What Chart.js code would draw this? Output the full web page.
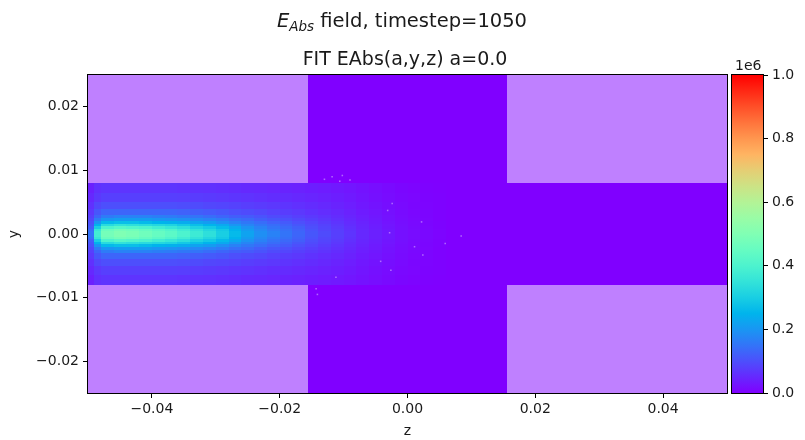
<!DOCTYPE html>
<html>
<head>
<meta charset="utf-8">
<script src="https://cdn.jsdelivr.net/npm/chart.js@4/dist/chart.umd.min.js"></script>
<style>
  body { margin: 0; background: #fff; }
  #wrap { position: relative; width: 805px; height: 440px; }
  #main { position: absolute; left: 0; top: 0; }
  #cbar { position: absolute; left: 727px; top: 0; }
</style>
</head>
<body>
<div id="wrap">
  <canvas id="main" width="805" height="440"></canvas>
  <canvas id="cbar" width="78" height="440"></canvas>
</div>
<script>
// --- axes ---
const zRange = [-0.05, 0.05];
const yRange = [-0.025, 0.025];
const zTicks = [-0.04, -0.02, 0, 0.02, 0.04];
const zTickLabels = ['\u22120.04', '\u22120.02', '0.00', '0.02', '0.04'];
const yTicks = [-0.02, -0.01, 0, 0.01, 0.02];
const yTickLabels = ['\u22120.02', '\u22120.01', '0.00', '0.01', '0.02'];
const cbTicks = [0, 0.2, 0.4, 0.6, 0.8, 1.0];
const cbTickLabels = ['0.0', '0.2', '0.4', '0.6', '0.8', '1.0'];

// --- geometry (metres): beam pipe half height, cavity half length ---
const pipeHalfHeight = 0.008;
const cavityHalfLength = 0.0155;

// --- field |E| in units of 1e6, cells on zEdges x yEdges (upper half, mirrored in y) ---
const zEdges = [-0.05, -0.049, -0.048, -0.046, -0.044, -0.042, -0.040, -0.038, -0.036, -0.034, -0.032,
  -0.030, -0.028, -0.026, -0.024, -0.022, -0.020, -0.018, -0.016, -0.014, -0.012, -0.010, -0.008,
  -0.006, -0.004, -0.002, 0.000, 0.002, 0.004, 0.006, 0.05];
const yEdges = [0, 0.0004, 0.0008, 0.0012, 0.0016, 0.002, 0.0025, 0.003, 0.004, 0.005, 0.0065, 0.008];
const fieldRows = [
  [0.15, 0.38, 0.48, 0.50, 0.49, 0.47, 0.45, 0.43, 0.40, 0.37, 0.34, 0.30, 0.26, 0.22, 0.19, 0.17, 0.15, 0.13, 0.11, 0.095, 0.08, 0.065, 0.05, 0.04, 0.03, 0.02, 0.015, 0.01, 0.005, 0],
  [0.14, 0.36, 0.46, 0.48, 0.47, 0.45, 0.43, 0.41, 0.38, 0.35, 0.32, 0.29, 0.25, 0.21, 0.18, 0.16, 0.145, 0.125, 0.105, 0.09, 0.078, 0.063, 0.05, 0.04, 0.03, 0.02, 0.015, 0.01, 0.005, 0],
  [0.12, 0.30, 0.40, 0.42, 0.41, 0.40, 0.38, 0.36, 0.34, 0.31, 0.29, 0.26, 0.23, 0.195, 0.17, 0.15, 0.135, 0.12, 0.10, 0.087, 0.074, 0.06, 0.048, 0.038, 0.028, 0.02, 0.014, 0.009, 0.004, 0],
  [0.11, 0.25, 0.33, 0.35, 0.34, 0.33, 0.32, 0.31, 0.29, 0.27, 0.25, 0.23, 0.20, 0.175, 0.155, 0.14, 0.125, 0.11, 0.095, 0.083, 0.07, 0.057, 0.046, 0.036, 0.027, 0.019, 0.013, 0.008, 0.004, 0],
  [0.10, 0.20, 0.26, 0.27, 0.27, 0.26, 0.25, 0.245, 0.235, 0.22, 0.21, 0.19, 0.17, 0.155, 0.14, 0.125, 0.115, 0.10, 0.088, 0.077, 0.066, 0.054, 0.044, 0.034, 0.025, 0.018, 0.012, 0.008, 0.004, 0],
  [0.09, 0.16, 0.20, 0.21, 0.21, 0.21, 0.20, 0.195, 0.19, 0.18, 0.17, 0.16, 0.145, 0.135, 0.12, 0.11, 0.10, 0.09, 0.08, 0.07, 0.06, 0.05, 0.04, 0.032, 0.023, 0.016, 0.011, 0.007, 0.003, 0],
  [0.08, 0.13, 0.16, 0.17, 0.17, 0.17, 0.165, 0.16, 0.155, 0.15, 0.14, 0.13, 0.12, 0.115, 0.105, 0.095, 0.088, 0.08, 0.072, 0.064, 0.055, 0.046, 0.037, 0.03, 0.022, 0.015, 0.01, 0.006, 0.003, 0],
  [0.07, 0.11, 0.13, 0.13, 0.13, 0.13, 0.13, 0.13, 0.125, 0.12, 0.115, 0.11, 0.10, 0.095, 0.09, 0.082, 0.076, 0.07, 0.063, 0.056, 0.05, 0.042, 0.034, 0.027, 0.02, 0.014, 0.009, 0.006, 0.003, 0],
  [0.06, 0.09, 0.10, 0.10, 0.10, 0.10, 0.10, 0.10, 0.098, 0.095, 0.09, 0.087, 0.083, 0.078, 0.074, 0.07, 0.065, 0.06, 0.055, 0.05, 0.044, 0.037, 0.03, 0.024, 0.018, 0.012, 0.008, 0.005, 0.002, 0],
  [0.05, 0.07, 0.08, 0.08, 0.08, 0.08, 0.08, 0.08, 0.078, 0.076, 0.073, 0.07, 0.067, 0.064, 0.06, 0.057, 0.054, 0.05, 0.046, 0.042, 0.038, 0.032, 0.026, 0.02, 0.015, 0.01, 0.007, 0.004, 0.002, 0],
  [0.04, 0.06, 0.065, 0.065, 0.065, 0.065, 0.065, 0.065, 0.063, 0.062, 0.06, 0.058, 0.055, 0.052, 0.05, 0.047, 0.044, 0.041, 0.038, 0.035, 0.031, 0.027, 0.022, 0.017, 0.012, 0.008, 0.005, 0.003, 0.001, 0],
];

// stray numerical specks in the cavity (z, y)
const speckZ = [-0.0130, -0.0118, -0.0102, -0.0106, -0.0090, -0.0024, -0.0031, 0.0022, -0.0028,
  0.0084, 0.0059, 0.0011, 0.0024, -0.0042, -0.0026, -0.0112, -0.0143, -0.0141];
const speckY = [0.0086, 0.0090, 0.0092, 0.0083, 0.0085, 0.0048, 0.0037, 0.0019, 0.0002,
  -0.0003, -0.0015, -0.0020, -0.0033, -0.0043, -0.0057, -0.0068, -0.0086, -0.0095];

const FONT = "'DejaVu Sans', sans-serif";
const TXT = '#1a1a1a';
const MASK = 'rgb(191,128,255)';

// matplotlib 'rainbow'
function rainbow(v) {
  v = Math.min(1, Math.max(0, v));
  const r = Math.min(1, Math.abs(2 * v - 0.5));
  const g = Math.sin(Math.PI * v);
  const b = Math.cos(Math.PI * v / 2);
  return `rgb(${Math.round(r * 255)},${Math.round(g * 255)},${Math.round(b * 255)})`;
}

const heatmap = {
  id: 'heatmap',
  beforeDatasetsDraw(chart) {
    const { ctx, chartArea: a, scales: { x, y } } = chart;
    ctx.save();
    ctx.beginPath(); ctx.rect(a.left, a.top, a.width, a.height); ctx.clip();
    const cell = (z0, z1, y0, y1, color) => {
      const px0 = Math.round(x.getPixelForValue(z0)), px1 = Math.round(x.getPixelForValue(z1));
      const py0 = Math.round(y.getPixelForValue(y1)), py1 = Math.round(y.getPixelForValue(y0));
      ctx.fillStyle = color;
      ctx.fillRect(px0, py0, px1 - px0, py1 - py0);
    };
    cell(zRange[0], zRange[1], yRange[0], yRange[1], rainbow(0));
    // metal walls outside the cavity
    cell(zRange[0], -cavityHalfLength, pipeHalfHeight, yRange[1], MASK);
    cell(cavityHalfLength, zRange[1], pipeHalfHeight, yRange[1], MASK);
    cell(zRange[0], -cavityHalfLength, yRange[0], -pipeHalfHeight, MASK);
    cell(cavityHalfLength, zRange[1], yRange[0], -pipeHalfHeight, MASK);
    fieldRows.forEach((row, r) => row.forEach((v, c) => {
      if (!v) return;
      const col = rainbow(v);
      cell(zEdges[c], zEdges[c + 1], yEdges[r], yEdges[r + 1], col);
      cell(zEdges[c], zEdges[c + 1], -yEdges[r + 1], -yEdges[r], col);
    }));
    ctx.restore();
  },
  afterDraw(chart) {
    const { ctx, chartArea: a } = chart;
    ctx.save();
    ctx.strokeStyle = '#000'; ctx.lineWidth = 1;
    ctx.strokeRect(Math.round(a.left) - 0.5, Math.round(a.top) - 0.5, Math.round(a.width) + 1, Math.round(a.height) + 1);
    // axes title
    ctx.fillStyle = TXT;
    ctx.textAlign = 'center'; ctx.textBaseline = 'alphabetic';
    ctx.font = `19px ${FONT}`;
    ctx.fillText('FIT EAbs(a,y,z) a=0.0', 405, 64.5);
    // figure suptitle: E_Abs field, timestep=1050
    const big = `19.5px ${FONT}`, bigI = `italic 19.5px ${FONT}`, subI = `italic 13.5px ${FONT}`;
    const parts = [[bigI, 'E', 0], [subI, 'Abs', 3.5], [big, ' field, timestep=1050', 0]];
    let w = 0;
    parts.forEach(p => { ctx.font = p[0]; p.push(ctx.measureText(p[1]).width); w += p[3]; });
    let cx = 402 - w / 2;
    ctx.textAlign = 'left';
    parts.forEach(p => { ctx.font = p[0]; ctx.fillText(p[1], cx, 27 + p[2]); cx += p[3]; });
    ctx.restore();
  }
};

const tickFont = { family: FONT, size: 14 };

new Chart(document.getElementById('main'), {
  type: 'scatter',
  data: {
    datasets: [{
      data: speckZ.map((z, i) => ({ x: z, y: speckY[i] })),
      pointStyle: 'rect', pointRadius: 1.1, borderWidth: 0,
      backgroundColor: 'rgba(185,120,255,0.85)'
    }]
  },
  options: {
    responsive: false, animation: false, events: [],
    layout: { padding: { top: 75, right: 78, left: 0, bottom: 0 } },
    plugins: { legend: { display: false }, tooltip: { enabled: false } },
    scales: {
      x: {
        type: 'linear', min: zRange[0], max: zRange[1],
        afterBuildTicks: s => { s.ticks = zTicks.map(v => ({ value: v })); },
        afterFit: s => { s.height = 47; },
        ticks: { callback: (v, i) => zTickLabels[i], color: TXT, font: tickFont, padding: 3, maxRotation: 0 },
        grid: { drawOnChartArea: false, color: '#000', tickLength: 5 },
        border: { display: false },
        title: { display: true, text: 'z', color: TXT, font: tickFont, padding: { top: 0, bottom: 0 } }
      },
      y: {
        type: 'linear', min: yRange[0], max: yRange[1],
        afterBuildTicks: s => { s.ticks = yTicks.map(v => ({ value: v })); },
        afterFit: s => { s.width = 88; },
        ticks: { callback: (v, i) => yTickLabels[i], color: TXT, font: tickFont, padding: 4 },
        grid: { drawOnChartArea: false, color: '#000', tickLength: 5 },
        border: { display: false },
        title: { display: true, text: 'y', color: TXT, font: tickFont, padding: { top: 6 } }
      }
    }
  },
  plugins: [heatmap]
});

// --- colorbar ---
const cbFill = {
  id: 'cbFill',
  beforeDatasetsDraw(chart) {
    const { ctx, chartArea: a, scales: { y } } = chart;
    const g = ctx.createLinearGradient(0, y.getPixelForValue(0), 0, y.getPixelForValue(1));
    for (let i = 0; i <= 20; i++) g.addColorStop(i / 20, rainbow(i / 20));
    ctx.save();
    ctx.fillStyle = g;
    ctx.fillRect(a.left, a.top, a.width, a.height);
    ctx.restore();
  },
  afterDraw(chart) {
    const { ctx, chartArea: a } = chart;
    ctx.save();
    ctx.strokeStyle = '#000'; ctx.lineWidth = 1;
    ctx.strokeRect(Math.round(a.left) - 0.5, Math.round(a.top) - 0.5, Math.round(a.width) + 1, Math.round(a.height) + 1);
    ctx.fillStyle = TXT; ctx.font = `14px ${FONT}`;
    ctx.textAlign = 'left'; ctx.textBaseline = 'alphabetic';
    ctx.fillText('1e6', a.left + 3, 70);
    ctx.restore();
  }
};

new Chart(document.getElementById('cbar'), {
  type: 'scatter',
  data: { datasets: [{ data: [] }] },
  options: {
    responsive: false, animation: false, events: [],
    layout: { padding: { top: 75, bottom: 47, left: 5, right: 0 } },
    plugins: { legend: { display: false }, tooltip: { enabled: false } },
    scales: {
      x: { display: false, min: 0, max: 1 },
      y: {
        position: 'right', min: 0, max: 1,
        afterBuildTicks: s => { s.ticks = cbTicks.map(v => ({ value: v })); },
        afterFit: s => { s.width = 42; },
        ticks: { callback: (v, i) => cbTickLabels[i], color: TXT, font: tickFont, padding: 4 },
        grid: { drawOnChartArea: false, color: '#000', tickLength: 5 },
        border: { display: false }
      }
    }
  },
  plugins: [cbFill]
});
</script>
</body>
</html>
